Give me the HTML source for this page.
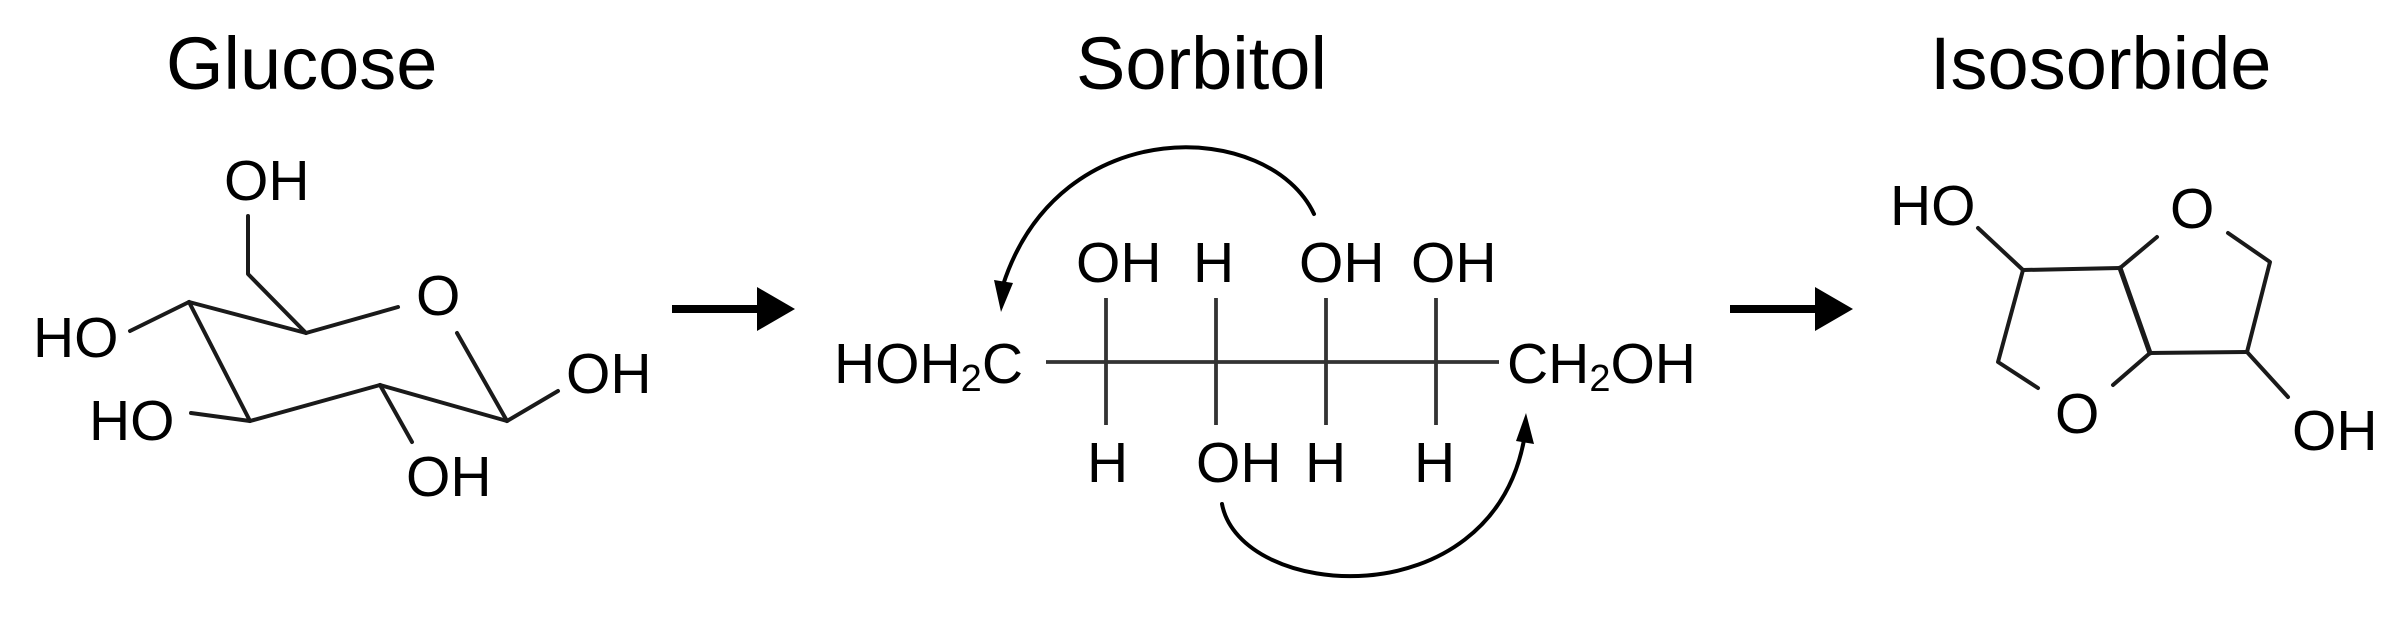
<!DOCTYPE html>
<html><head><meta charset="utf-8"><style>
html,body{margin:0;padding:0;background:#fff;}
svg{display:block;}
text{font-family:"Liberation Sans",Arial,sans-serif;fill:#000;}
</style></head><body>
<svg width="2408" height="622" viewBox="0 0 2408 622" xmlns="http://www.w3.org/2000/svg">
<!-- Titles -->
<text x="166" y="89" font-size="74">Glucose</text>
<text x="1076" y="89" font-size="74">Sorbitol</text>
<text x="1930" y="89" font-size="74">Isosorbide</text>

<!-- Glucose -->
<g stroke="#1a1a1a" stroke-width="4" fill="none" stroke-linecap="round" stroke-linejoin="round">
<polyline points="248,216 248,274 306,333"/>
<line x1="306" y1="333" x2="398" y2="307"/>
<line x1="457" y1="333" x2="507" y2="421"/>
<line x1="507" y1="421" x2="558" y2="391"/>
<line x1="507" y1="421" x2="380" y2="385"/>
<line x1="380" y1="385" x2="412" y2="442"/>
<line x1="380" y1="385" x2="250" y2="421"/>
<line x1="250" y1="421" x2="191" y2="413"/>
<line x1="250" y1="421" x2="189" y2="302"/>
<line x1="189" y1="302" x2="306" y2="333"/>
<line x1="189" y1="302" x2="130" y2="331"/>
</g>
<g font-size="57">
<text x="224" y="200">OH</text>
<text x="416" y="315">O</text>
<text x="566" y="393">OH</text>
<text x="406" y="496">OH</text>
<text x="89" y="440">HO</text>
<text x="33" y="357">HO</text>
</g>

<!-- Arrows -->
<line x1="672" y1="309" x2="760" y2="309" stroke="#000" stroke-width="8"/>
<polygon points="757,287 795,309 757,331" fill="#000"/>
<line x1="1730" y1="309" x2="1818" y2="309" stroke="#000" stroke-width="8"/>
<polygon points="1815,287 1853,309 1815,331" fill="#000"/>

<!-- Sorbitol -->
<g stroke="#333" stroke-width="3.8" fill="none">
<line x1="1046" y1="362" x2="1499" y2="362"/>
<line x1="1106" y1="298" x2="1106" y2="425"/>
<line x1="1216" y1="298" x2="1216" y2="425"/>
<line x1="1326" y1="298" x2="1326" y2="425"/>
<line x1="1436" y1="298" x2="1436" y2="425"/>
</g>
<g font-size="57">
<text x="834" y="383">HOH<tspan font-size="38" dy="8">2</tspan><tspan dy="-8">C</tspan></text>
<text x="1507" y="383">CH<tspan font-size="38" dy="8">2</tspan><tspan dy="-8">OH</tspan></text>
<text x="1076" y="282">OH</text>
<text x="1193" y="282">H</text>
<text x="1299" y="282">OH</text>
<text x="1411" y="282">OH</text>
<text x="1087" y="482">H</text>
<text x="1196" y="482">OH</text>
<text x="1305" y="482">H</text>
<text x="1414" y="482">H</text>
</g>
<!-- curved arrows -->
<g stroke="#000" stroke-width="4" fill="none" stroke-linecap="round">
<path d="M1314,214 C1270,120 1060,110 1003,285"/>
<path d="M1222,504 C1240,600 1490,620 1524,440"/>
</g>
<polygon points="994,280 1013,283 1001,312" fill="#000"/>
<polygon points="1516,441 1534,444 1526,413" fill="#000"/>

<!-- Isosorbide -->
<g stroke="#1a1a1a" stroke-width="4" fill="none" stroke-linecap="round" stroke-linejoin="round">
<line x1="1978" y1="228" x2="2023" y2="270"/>
<line x1="2023" y1="270" x2="2120" y2="268"/>
<line x1="2120" y1="268" x2="2157" y2="237"/>
<line x1="2120" y1="268" x2="2150" y2="353" stroke-width="5"/>
<line x1="2150" y1="353" x2="2247" y2="352"/>
<line x1="2150" y1="353" x2="2113" y2="385"/>
<polyline points="2228,233 2270,262 2247,352"/>
<line x1="2247" y1="352" x2="2288" y2="397"/>
<polyline points="2023,270 1998,362 2038,388"/>
</g>
<g font-size="57">
<text x="1890" y="225">HO</text>
<text x="2170" y="228">O</text>
<text x="2055" y="433">O</text>
<text x="2292" y="450">OH</text>
</g>
</svg>
</body></html>
